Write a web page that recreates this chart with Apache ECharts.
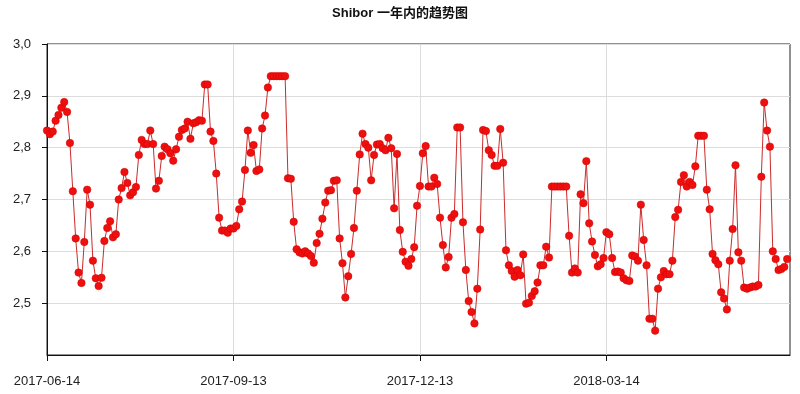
<!DOCTYPE html>
<html>
<head>
<meta charset="utf-8">
<script src="https://cdn.jsdelivr.net/npm/echarts@6/dist/echarts.min.js"></script>
<style>html,body{margin:0;padding:0;background:#fff}#c{width:800px;height:394px}</style>
</head>
<body>
<div id="c"></div>
<script>
const chartTitle = 'Shibor 一年内的趋势图';
const startDate = '2017-06-14';
const dayCount = 260;
const tickLabels = ['2017-06-14', '2017-09-13', '2017-12-13', '2018-03-14'];
const yTicks = [2.4, 2.5, 2.6, 2.7, 2.8, 2.9, 3.0];
const values = [
2.833,2.826,2.831,2.852,2.863,2.877,2.888,2.869,2.809,2.716,
2.625,2.559,2.539,2.618,2.719,2.690,2.582,2.548,2.533,2.549,
2.620,2.645,2.658,2.627,2.633,2.700,2.722,2.753,2.732,2.708,
2.714,2.724,2.786,2.815,2.807,2.807,2.833,2.807,2.721,2.736,
2.784,2.802,2.797,2.789,2.775,2.797,2.821,2.834,2.837,2.850,
2.817,2.847,2.849,2.853,2.852,2.922,2.922,2.831,2.813,2.750,
2.665,2.640,2.640,2.636,2.644,2.644,2.649,2.681,2.696,2.757,
2.833,2.790,2.805,2.755,2.758,2.837,2.862,2.916,2.938,2.938,
2.938,2.938,2.938,2.938,2.741,2.740,2.657,2.604,2.598,2.596,
2.600,2.596,2.591,2.578,2.616,2.634,2.663,2.694,2.717,2.718,
2.736,2.737,2.625,2.577,2.511,2.552,2.595,2.645,2.717,2.787,
2.827,2.807,2.800,2.737,2.786,2.806,2.807,2.799,2.795,2.819,
2.799,2.683,2.788,2.641,2.599,2.580,2.572,2.585,2.608,2.688,
2.726,2.789,2.803,2.725,2.725,2.742,2.730,2.665,2.612,2.569,
2.589,2.665,2.672,2.839,2.839,2.656,2.564,2.504,2.483,2.461,
2.528,2.642,2.834,2.832,2.795,2.786,2.765,2.765,2.836,2.771,
2.602,2.573,2.562,2.551,2.564,2.554,2.594,2.499,2.501,2.514,
2.523,2.540,2.573,2.573,2.609,2.588,2.725,2.725,2.725,2.725,
2.725,2.725,2.630,2.559,2.567,2.559,2.710,2.693,2.774,2.654,
2.619,2.593,2.571,2.575,2.587,2.637,2.633,2.587,2.560,2.561,
2.559,2.548,2.544,2.543,2.592,2.590,2.582,2.690,2.622,2.573,
2.470,2.470,2.447,2.528,2.550,2.562,2.556,2.556,2.582,2.666,
2.680,2.734,2.747,2.725,2.734,2.728,2.764,2.823,2.823,2.823,
2.719,2.681,2.595,2.583,2.575,2.521,2.509,2.488,2.582,2.643,
2.766,2.598,2.582,2.530,2.528,2.530,2.532,2.532,2.535,2.744,
2.887,2.833,2.802,2.600,2.585,2.564,2.566,2.570,2.585
];

// weekday categories starting at startDate
const categories = [];
(function () {
  const d = new Date(startDate + 'T00:00:00Z');
  while (categories.length < dayCount) {
    const wd = d.getUTCDay();
    if (wd !== 0 && wd !== 6) categories.push(d.toISOString().slice(0, 10));
    d.setUTCDate(d.getUTCDate() + 1);
  }
})();

const isTick = (idx) => tickLabels.indexOf(categories[idx]) >= 0;
const FONT = '"Liberation Sans", Arial, "Noto Sans CJK SC", sans-serif';

const chart = echarts.init(document.getElementById('c'), null, { renderer: 'canvas' });
chart.setOption({
  backgroundColor: '#fff',
  animation: false,
  title: {
    text: chartTitle,
    left: 'center',
    top: 2,
    textStyle: { fontSize: 13, fontWeight: 'bold', color: '#111', fontFamily: FONT }
  },
  grid: {
    left: 47, right: 10, top: 44, bottom: 39,
    show: true, borderColor: '#222', borderWidth: 1, backgroundColor: 'transparent'
  },
  xAxis: {
    type: 'category',
    data: categories,
    boundaryGap: false,
    axisLine: { show: true, lineStyle: { color: '#111', width: 1 } },
    axisTick: { show: true, interval: isTick, length: 6, lineStyle: { color: '#111' } },
    axisLabel: {
      interval: isTick, margin: 20, color: '#222', fontSize: 13, fontFamily: FONT,
      hideOverlap: false
    },
    splitLine: { show: true, interval: isTick, lineStyle: { color: '#dcdcdc', width: 1 } }
  },
  yAxis: {
    type: 'value',
    min: yTicks[0],
    max: yTicks[yTicks.length - 1],
    interval: 0.1,
    axisLine: { show: true, lineStyle: { color: '#111', width: 1 } },
    axisTick: { show: true, length: 5, lineStyle: { color: '#111' } },
    axisLabel: {
      showMinLabel: false,
      margin: 16, color: '#222', fontSize: 13, fontFamily: FONT,
      formatter: v => v.toFixed(1).replace('.', ',')
    },
    splitLine: { show: true, lineStyle: { color: '#dcdcdc', width: 1 } }
  },
  series: [{
    type: 'line',
    data: values,
    symbol: 'circle',
    symbolSize: 7.5,
    showAllSymbol: true,
    clip: false,
    itemStyle: { color: '#ee0f0f', borderColor: '#d40000', borderWidth: 0.5 },
    lineStyle: { color: '#cc2b2b', width: 1 },
    emphasis: { disabled: true }
  }]
});
</script>
</body>
</html>
